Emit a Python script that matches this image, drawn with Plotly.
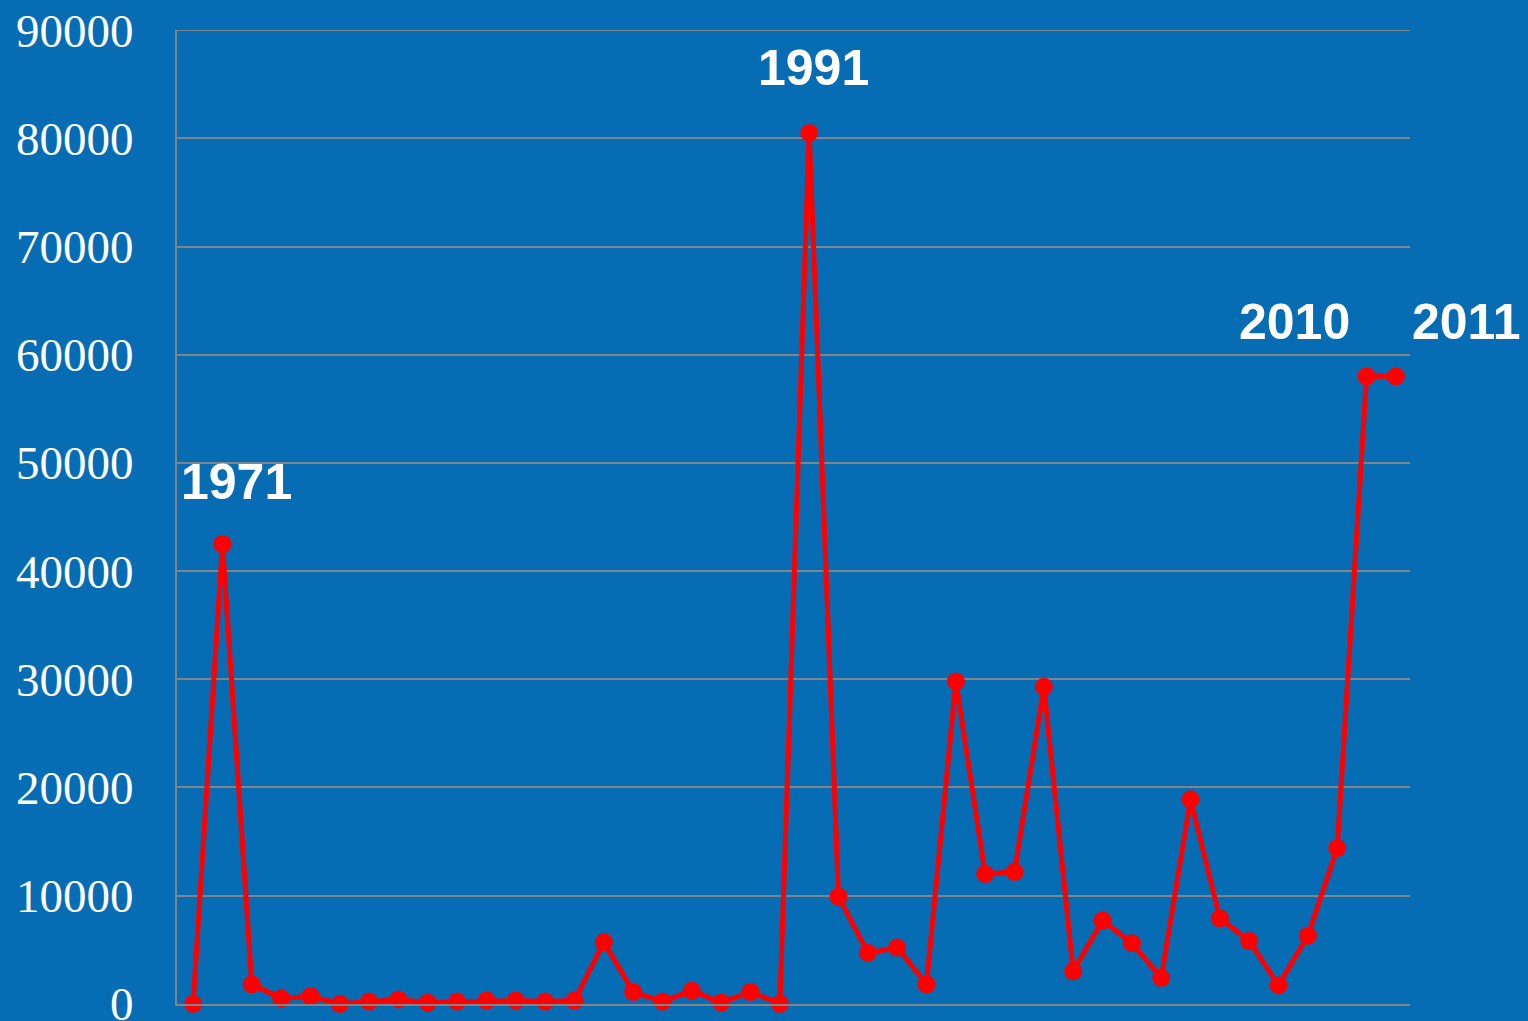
import plotly.graph_objects as go

years = list(range(1970, 2012))
values = [0, 42500, 1800, 500, 700, 0, 200, 400, 100, 200,
          300, 300, 200, 300, 5700, 1100, 200, 1200, 100, 1100,
          0, 80500, 9900, 4700, 5200, 1800, 29800, 12000, 12200, 29300,
          3000, 7700, 5600, 2400, 18900, 7900, 5800, 1700, 6300, 14400,
          58000, 58000]
y_ticks = [0, 10000, 20000, 30000, 40000, 50000, 60000, 70000, 80000, 90000]
labelled_years = [1971, 1991, 2010, 2011]
label_shifts = {1971: (14, 62), 1991: (4, 65), 2010: (-72, 54), 2011: (70, 54)}

BG = "#066CB4"
GRID = "#808488"

idx = list(range(len(years)))

fig = go.Figure()
fig.add_trace(go.Scatter(
    x=idx, y=values, mode="lines+markers",
    line=dict(color="#FF0000", width=5),
    marker=dict(color="#FF0000", size=18),
    cliponaxis=False, hoverinfo="skip", showlegend=False,
))

for yr in labelled_years:
    i = years.index(yr)
    dx, dy = label_shifts[yr]
    fig.add_annotation(
        x=i, y=values[i], xref="x", yref="y", text="<b>%d</b>" % yr, showarrow=False,
        xshift=dx, yshift=dy, xanchor="center", yanchor="middle",
        font=dict(family="Liberation Sans, Arial", size=50, color="white"),
    )

# top grid line (plotly omits the one on the range edge)
fig.add_shape(type="line", xref="x domain", yref="y", x0=0, x1=1,
              y0=y_ticks[-1], y1=y_ticks[-1], line=dict(color=GRID, width=1.5), layer="below")

fig.update_layout(
    width=1528, height=1021,
    margin=dict(l=177, r=118, t=30, b=17, autoexpand=False),
    paper_bgcolor=BG, plot_bgcolor=BG,
    xaxis=dict(range=[-0.55, 41.48], showticklabels=False, showgrid=False, automargin=False,
               zeroline=False, showline=True, linecolor=GRID, linewidth=2),
    yaxis=dict(range=[-20, 90020], tickvals=y_ticks, ticktext=[str(v) for v in y_ticks],
               automargin=False, ticklabeloverflow="allow",
               showgrid=True, gridcolor=GRID, gridwidth=1.5, zeroline=False,
               showline=True, linecolor=GRID, linewidth=2, ticks="", ticklabelstandoff=32,
               tickfont=dict(family="Liberation Serif, Times New Roman", size=47, color="white")),
)

fig.write_html("out.html", config={"displayModeBar": False})
with open("out.html", "r", encoding="utf-8") as f:
    html = f.read()
html = html.replace("<body>", "<body style=\"margin:0;background:%s\">" % BG, 1)
with open("out.html", "w", encoding="utf-8") as f:
    f.write(html)
